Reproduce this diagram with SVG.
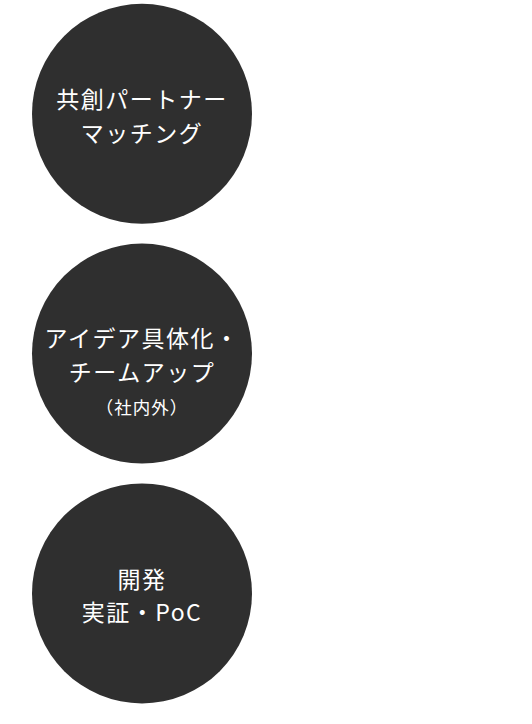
<svg xmlns="http://www.w3.org/2000/svg" width="532" height="724" viewBox="0 0 532 724">
<style>
.c{fill:#2f2f2f}
.t{fill:#ffffff;font-family:"Noto Sans CJK JP","Noto Sans",sans-serif;font-size:23px;text-anchor:middle;letter-spacing:1.5px}
.s{font-size:17.5px;letter-spacing:1px}
</style>
<rect width="532" height="724" fill="#ffffff"/>
<g id="connectors"></g>
<g id="node1">
<circle class="c" cx="142" cy="113.8" r="110"/>
<text class="t" x="142" y="108">共創パートナー</text>
<text class="t" x="142" y="142">マッチング</text>
</g>
<g id="node2">
<circle class="c" cx="142" cy="353.6" r="110"/>
<text class="t" x="142" y="347">アイデア具体化・</text>
<text class="t" x="142" y="381">チームアップ</text>
<text class="t s" x="142" y="414">（社内外）</text>
</g>
<g id="node3">
<circle class="c" cx="142" cy="593.4" r="110"/>
<text class="t" x="142" y="588">開発</text>
<text class="t" x="142" y="621">実証・PoC</text>
</g>
</svg>
